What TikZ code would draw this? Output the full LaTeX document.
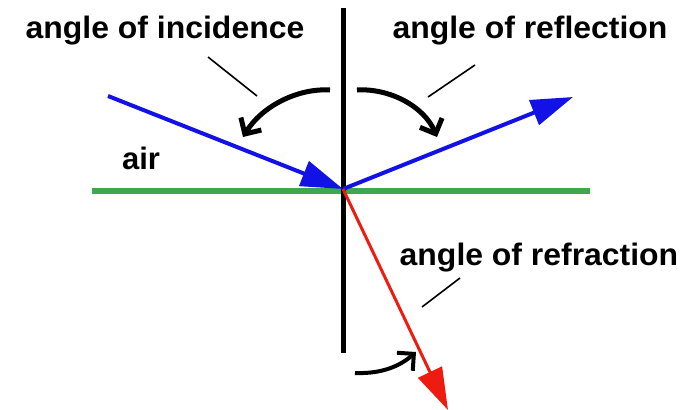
\documentclass[tikz,border=0pt]{standalone}
\usepackage{fontspec}
\setmainfont{Liberation Sans}
\usetikzlibrary{arrows.meta}
\definecolor{RayBlue}{HTML}{1212E6}
\definecolor{Surface}{HTML}{3DA84E}
\definecolor{RayRed}{HTML}{EE1C10}

\begin{document}
\begin{tikzpicture}[x=1pt,y=-1pt,
    lbl/.style={font=\bfseries\fontsize{31}{31}\selectfont,xscale=1.03,anchor=base,inner sep=0pt},
    ray/.style={line width=4pt,-{Triangle[length=42pt,width=26pt]}},
    turn/.style={line width=5pt,-{Straight Barb[length=12pt,width=24pt]}},
    ptr/.style={line width=1.6pt}]
  \path[use as bounding box,fill=white] (0,0) rectangle (697,410);
  % surface and normal
  \coordinate (O) at (343,189);
  \coordinate (nT) at (343,8);  \coordinate (nB) at (343,353);
  \coordinate (sL) at (92,191); \coordinate (sR) at (590,191);
  \draw[line width=6pt,Surface] (sL) -- (sR);
  \draw[line width=5pt] (nT) -- (nB);
  % rays
  \coordinate (inc) at (108,96);
  \coordinate (refl) at (573,97);
  \coordinate (refr) at (448,410);
  \draw[ray,RayBlue] (inc) -- (O);
  \draw[ray,RayBlue] (O) -- (refl);
  \draw[ray,RayRed,line width=3pt] (O) -- (refr);
  % labels
  \node[lbl] (tInc) at (165,38) {angle of incidence};
  \node[lbl] (tRefl) at (530,38) {angle of reflection};
  \node[lbl] (tRefr) at (539,265) {angle of refraction};
  \node[lbl,xscale=0.97] (tAir) at (141,169) {air};
  % pointer strokes
  \coordinate (p1a) at (208,57);  \coordinate (p1b) at (257,96);
  \coordinate (p2a) at (475,65);  \coordinate (p2b) at (428,97);
  \coordinate (p3a) at (460,278); \coordinate (p3b) at (422,307);
  \draw[ptr] (p1a) -- (p1b);
  \draw[ptr] (p2a) -- (p2b);
  \draw[ptr] (p3a) -- (p3b);
  % angle arrows
  \coordinate (a1s) at (330,90);  \coordinate (a1e) at (243,137);
  \coordinate (a2s) at (357,90);  \coordinate (a2e) at (437,137);
  \coordinate (a3s) at (355,373); \coordinate (a3e) at (416,352);
  \draw[turn] (a1s) .. controls (298,88) and (262,106) .. (a1e);
  \draw[turn] (a2s) .. controls (389,88) and (424,106) .. (a2e);
  \draw[turn,line width=4pt] (a3s) .. controls (382,374) and (400,366) .. (a3e);
\end{tikzpicture}
\end{document}
